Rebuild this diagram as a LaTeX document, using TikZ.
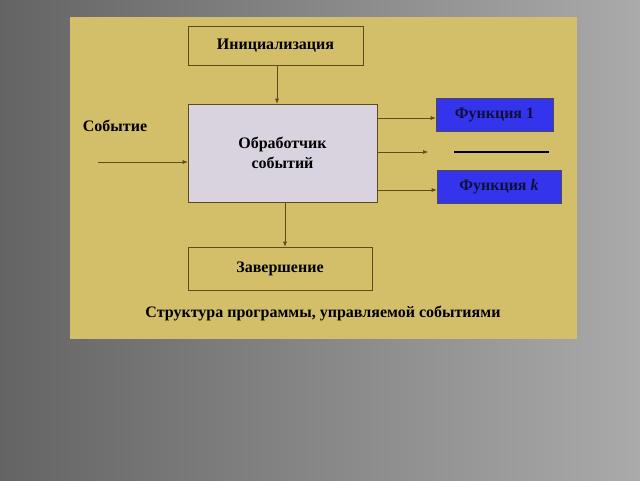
\documentclass[tikz,border=0pt]{standalone}
\usepackage{fontspec}
\setmainfont{Liberation Serif}
\usetikzlibrary{positioning,arrows.meta}
\definecolor{panel}{RGB}{211,190,106}
\definecolor{boxline}{RGB}{95,75,25}
\definecolor{handler}{RGB}{216,211,222}
\definecolor{funcblue}{RGB}{52,52,236}
\definecolor{funcink}{RGB}{15,15,60}
\begin{document}
\begin{tikzpicture}[x=1pt, y=-1pt, line width=0.6pt, >={Latex[length=5pt,width=4pt]},
    box/.style = {draw=boxline, inner sep=0pt, align=center, font=\bfseries\fontsize{16}{20}\selectfont},
    func/.style = {box, fill=funcblue, text=funcink, draw=black!70, minimum height=33pt},
    link/.style = {->, draw=boxline}]
    \useasboundingbox (0,0) rectangle (640,480);
    \shade[left color={rgb,255:red,100;green,100;blue,100}, right color={rgb,255:red,170;green,170;blue,170}] (0,0) rectangle (640,480);
    \fill[panel] (70,17) rectangle (577,339);
    \node[box, minimum width=175pt, minimum height=39pt] (init) at (275.5,45.5) {Инициализация};
    \node[box, fill=handler, minimum width=189pt, minimum height=98pt] (handler) at (282.5,153) {Обработчик\\событий};
    \node[box, minimum width=184pt, minimum height=43pt] (fin) at (280,268.5) {Завершение};
    \node[func, minimum width=117pt] (f1) at (494.5,114.5) {Функция 1};
    \node[func, minimum width=124pt] (fk) at (499,186.5) {Функция \textit{k}};
    \node[font=\bfseries\fontsize{16}{18}\selectfont] (event) at (115,126) {Событие};
    \node[font=\bfseries\fontsize{16}{18}\selectfont] (caption) at (323,313) {Структура программы, управляемой событиями};
    \coordinate (src) at (98,162);
    \coordinate (mid) at (428,152);
    \draw[link] (init.south -| 277,0) -- (handler.north -| 277,0);
    \draw[link] (src) -- (src -| handler.west);
    \draw[link] ([yshift=-3.5pt]handler.east |- f1) -- ([yshift=-3.5pt]f1.west);
    \draw[link] (handler.east |- mid) -- (mid);
    \draw[link] ([yshift=-3.5pt]handler.east |- fk) -- ([yshift=-3.5pt]fk.west);
    \draw[link] (handler.south -| 285,0) -- (fin.north -| 285,0);
    \draw[line width=1.6pt] (454,152) -- (549,152);
\end{tikzpicture}
\end{document}
